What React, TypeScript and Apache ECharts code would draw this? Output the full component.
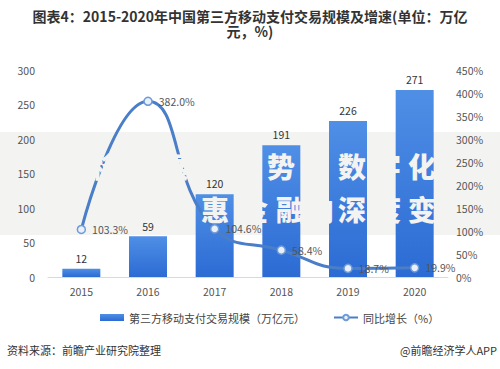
import React, { useEffect, useRef } from "react";
import * as echarts from "echarts";

const years = ["2015", "2016", "2017", "2018", "2019", "2020"];
const volume = [12, 59, 120, 191, 226, 271];
const growth = [103.3, 382.0, 104.6, 58.4, 18.7, 19.9];
const barName = "第三方移动支付交易规模（万亿元）";
const lineName = "同比增长（%）";
const titleLine1 = "图表4：2015-2020年中国第三方移动支付交易规模及增速(单位：万亿";
const titleLine2 = "元，%)";
const sourceText = "资料来源：前瞻产业研究院整理";
const brandText = "@前瞻经济学人APP";
const wmRow1 = ["移", "展", "势", "数", "字", "化"];
const wmRow1X = [105, 175, 281, 352, 387, 422];
const wmRow2 = ["普", "惠", "金", "融", "向", "深", "度", "变"];
const wmRow2X = [180, 215, 254, 290, 320, 352, 387, 422];

const FONT = '"Noto Sans CJK SC", "Noto Sans", sans-serif';
const BAND = "#f3f3f1";

export default function App() {
  const ref = useRef<HTMLDivElement>(null);
  useEffect(() => {
    if (!ref.current) return;
    const chart = echarts.init(ref.current, undefined, { renderer: "svg" });
    const wm: any[] = [];
    const addRow = (chars: string[], xs: number[], y: number) =>
      chars.forEach((c, i) =>
        wm.push({
          type: "text",
          z: 100,
          x: xs[i],
          y,
          style: { text: c, fill: BAND, font: `900 28px ${FONT}`, textAlign: "center", textVerticalAlign: "middle" },
        })
      );
    addRow(wmRow1, wmRow1X, 166);
    addRow(wmRow2, wmRow2X, 209);
    chart.setOption({
      animation: false,
      backgroundColor: "#ffffff",
      textStyle: { fontFamily: FONT },
      grid: { left: 48, right: 52, top: 70, bottom: 92 },
      legend: {
        left: 95,
        top: 307,
        itemWidth: 24,
        itemHeight: 7,
        itemGap: 28,
        textStyle: { fontSize: 11, color: "#444", fontFamily: FONT },
        data: [
          { name: barName, icon: "rect" },
          { name: lineName },
        ],
      },
      xAxis: {
        type: "category",
        data: years,
        axisLine: { lineStyle: { color: "#d9d9d9" } },
        axisTick: { show: false },
        axisLabel: { color: "#555", fontSize: 10.5, margin: 9 },
      },
      yAxis: [
        {
          type: "value",
          min: 0,
          max: 300,
          interval: 50,
          splitLine: { show: false },
          axisLine: { show: false },
          axisTick: { show: false },
          axisLabel: { color: "#555", fontSize: 10.5, margin: 13 },
        },
        {
          type: "value",
          min: 0,
          max: 450,
          interval: 50,
          splitLine: { show: false },
          axisLine: { show: false },
          axisTick: { show: false },
          axisLabel: { color: "#555", fontSize: 10.5, margin: 8, formatter: "{value}%" },
        },
      ],
      series: [
        {
          name: barName,
          type: "bar",
          data: volume,
          barWidth: 38,
          itemStyle: {
            color: new echarts.graphic.LinearGradient(0, 0, 0, 1, [
              { offset: 0, color: "#4f8fe6" },
              { offset: 1, color: "#2c6bd3" },
            ]),
          },
          label: { show: true, position: "top", color: "#333", fontSize: 10.5, distance: 5 },
        },
        {
          name: lineName,
          type: "line",
          yAxisIndex: 1,
          data: growth,
          smooth: true,
          z: 5,
          symbol: "circle",
          symbolSize: 8,
          lineStyle: { color: "#4a7ec9", width: 3 },
          itemStyle: { color: "#e9f0fa", borderColor: "#6f9bd9", borderWidth: 1.5 },
          label: {
            show: true,
            position: "right",
            distance: 6,
            color: "#555",
            fontSize: 10.5,
            formatter: (p: any) => p.value.toFixed(1) + "%",
          },
        },
      ],
      graphic: [
        { type: "rect", z: -1, shape: { x: 0, y: 132, width: 500, height: 103 }, style: { fill: BAND } },
        ...wm,
        {
          type: "text",
          x: 250,
          y: 16,
          style: { text: titleLine1, fill: "#333", font: `bold 14px ${FONT}`, textAlign: "center", textVerticalAlign: "middle" },
        },
        {
          type: "text",
          x: 250,
          y: 31,
          style: { text: titleLine2, fill: "#333", font: `bold 14px ${FONT}`, textAlign: "center", textVerticalAlign: "middle" },
        },
        {
          type: "text",
          left: 7,
          top: 344,
          style: { text: sourceText, fill: "#333", font: `11px ${FONT}` },
        },
        {
          type: "text",
          right: 3,
          top: 344,
          style: { text: brandText, fill: "#333", font: `11px ${FONT}` },
        },
      ],
    });
    return () => chart.dispose();
  }, []);
  return <div ref={ref} style={{ width: 500, height: 369, position: "absolute", left: 0, top: 0 }} />;
}
